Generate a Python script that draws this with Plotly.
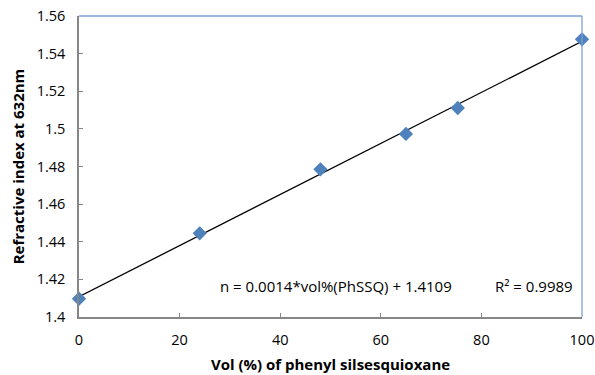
import numpy as np
import plotly.graph_objects as go

vol = [0, 24, 48, 65, 75.3, 100]
n_index = [1.4097, 1.4445, 1.4785, 1.4973, 1.5111, 1.5476]
x_ticks = [0, 20, 40, 60, 80, 100]
y_ticks = [1.4, 1.42, 1.44, 1.46, 1.48, 1.5, 1.52, 1.54, 1.56]
y_ticktext = ["1.4", "1.42", "1.44", "1.46", "1.48", "1.5", "1.52", "1.54", "1.56"]
eq_text = "n = 0.0014*vol%(PhSSQ) + 1.4109"
r2_text = "R² = 0.9989"

slope, intercept = np.polyfit(vol, n_index, 1)
fit_x = [0, 100]
fit_y = [intercept + slope * v for v in fit_x]

font = "Open Sans, Liberation Sans, sans-serif"
fig = go.Figure()
fig.add_trace(go.Scatter(x=fit_x, y=fit_y, mode="lines",
                         line=dict(color="black", width=1.3), hoverinfo="skip"))
fig.add_trace(go.Scatter(x=vol, y=n_index, mode="markers", cliponaxis=False,
                         marker=dict(symbol="diamond", size=11, color="#4F81BD")))

fig.update_layout(
    width=595, height=375,
    margin=dict(l=79, r=13, t=16, b=58, autoexpand=False),
    paper_bgcolor="white", plot_bgcolor="white",
    showlegend=False,
    font=dict(family=font, size=14.5, color="black"),
    xaxis=dict(range=[0, 100], tickvals=x_ticks, showgrid=False, zeroline=False,
               automargin=False, ticklabelstandoff=9,
               showline=True, linecolor="#868686", linewidth=1.5,
               ticks="inside", ticklen=4, tickcolor="#868686",
               title=dict(text="<b>Vol (%) of phenyl silsesquioxane</b>",
                          font=dict(size=15), standoff=11)),
    yaxis=dict(range=[1.4, 1.56], tickvals=y_ticks, ticktext=y_ticktext,
               showgrid=False, zeroline=False, automargin=False,
               ticklabelstandoff=9,
               showline=True, linecolor="#868686", linewidth=1.5,
               ticks="inside", ticklen=4, tickcolor="#868686",
               title=dict(text="<b>Refractive index at 632nm</b>",
                          font=dict(size=15), standoff=8)),
    shapes=[
        dict(type="line", xref="paper", yref="paper", x0=0, x1=1, y0=1, y1=1,
             line=dict(color="#7BA0D4", width=1.3)),
        dict(type="line", xref="paper", yref="paper", x0=1, x1=1, y0=0, y1=1,
             line=dict(color="#7BA0D4", width=1.3)),
    ],
    annotations=[
        dict(text=eq_text, x=51, y=1.4165, xref="x", yref="y", showarrow=False,
             font=dict(size=15)),
        dict(text=r2_text, x=90.5, y=1.4165, xref="x", yref="y", showarrow=False,
             font=dict(size=15)),
    ],
)
fig.write_html("out.html")
